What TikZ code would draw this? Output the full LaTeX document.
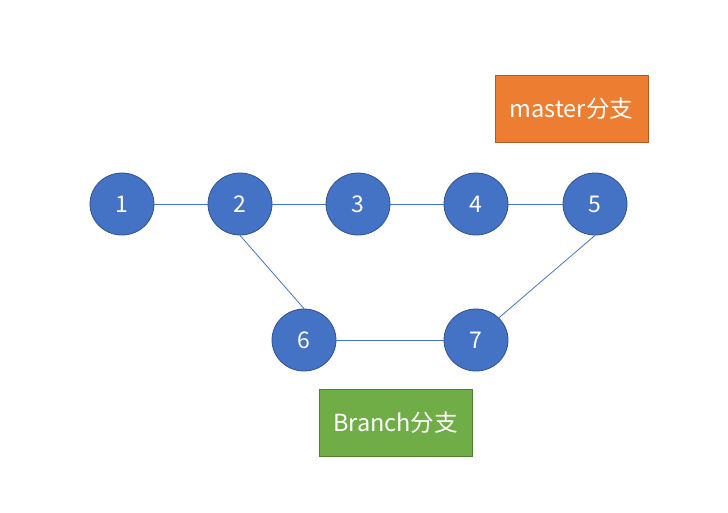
\documentclass[tikz,border=0pt]{standalone}
\usepackage{fontspec}
\setmainfont{Noto Sans CJK SC}
\usetikzlibrary{shapes.geometric}
\definecolor{nodeblue}{HTML}{4472C4}
\definecolor{nodeedge}{HTML}{2F528F}
\definecolor{masterorange}{HTML}{ED7D31}
\definecolor{masteredge}{HTML}{AE5A21}
\definecolor{branchgreen}{HTML}{70AD47}
\definecolor{branchedge}{HTML}{507E32}
\tikzset{
  commit/.style={ellipse, fill=nodeblue, draw=nodeedge, line width=0.8pt,
    minimum width=64pt, minimum height=62pt, inner sep=0pt, text=white,
    font=\fontsize{23}{26}\selectfont},
  label box/.style={rectangle, line width=0.8pt, minimum width=153pt,
    minimum height=67pt, inner sep=0pt, text=white,
    font=\fontsize{23.5}{26}\selectfont},
  link/.style={nodeblue, line width=0.8pt}
}
\begin{document}
\begin{tikzpicture}[x=1pt, y=-1pt]
    \useasboundingbox (0,0) rectangle (728,512);
    \node[commit] (n1) at (122,204) {1};
    \node[commit] (n2) at (240,204) {2};
    \node[commit] (n3) at (358,204) {3};
    \node[commit] (n4) at (476,204) {4};
    \node[commit] (n5) at (595,204) {5};
    \node[commit] (n6) at (304,340) {6};
    \node[commit] (n7) at (476,340) {7};
    \node[label box, fill=masterorange, draw=masteredge] (master) at (571.5,108.5) {master分支};
    \node[label box, fill=branchgreen, draw=branchedge] (branch) at (395.5,422.5) {Branch分支};
    \draw[link] (n1) -- (n2);
    \draw[link] (n2) -- (n3);
    \draw[link] (n3) -- (n4);
    \draw[link] (n4) -- (n5);
    \draw[link] (n2.south) -- (n6.north);
    \draw[link] (n6) -- (n7);
    \draw[link] (n5.south) -- (n7.north east);
\end{tikzpicture}
\end{document}
